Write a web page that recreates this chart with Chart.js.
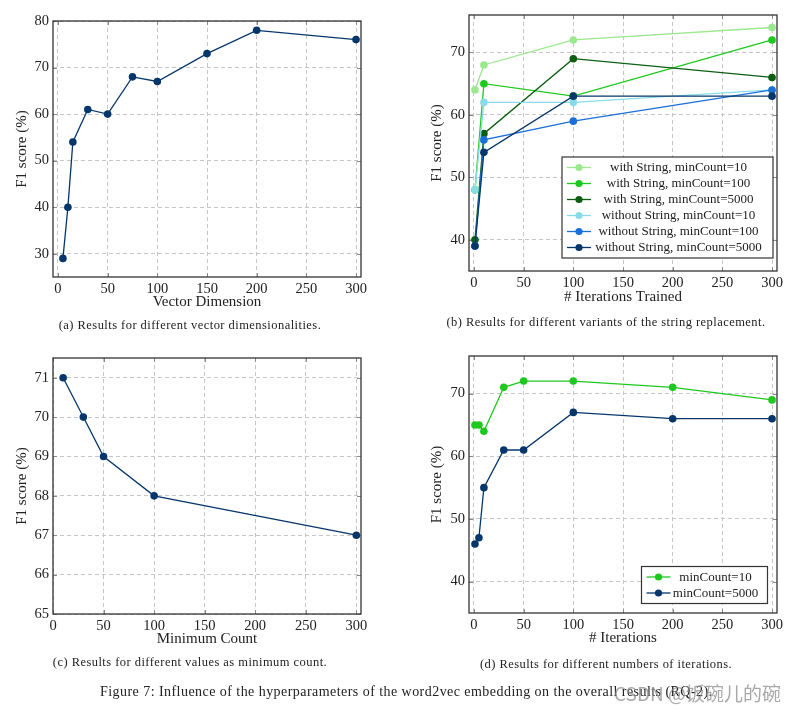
<!DOCTYPE html>
<html>
<head>
<meta charset="utf-8">
<script src="https://cdn.jsdelivr.net/npm/chart.js@4.4.1/dist/chart.umd.min.js"></script>
<style>
  body { margin: 0; background: #fff; width: 799px; height: 710px; position: relative; overflow: hidden;
         font-family: "Liberation Serif", "Times New Roman", serif; color: #222; }
  canvas { position: absolute; }
  .cap { position: absolute; font-size: 12.5px; letter-spacing: 0.45px; white-space: nowrap; transform: translate(-50%, -50%); }
  #figcap { position: absolute; left: 100px; top: 684px; font-size: 14px; letter-spacing: 0.45px; white-space: nowrap; }
  #mark { position: absolute; left: 614px; top: 679px; font-family: "Noto Sans CJK SC", sans-serif;
          font-size: 19px; color: rgba(140,140,140,0.75); white-space: nowrap; }
</style>
</head>
<body>
<canvas id="dimChart" width="400" height="320" style="left:0;top:0"></canvas>
<canvas id="stringChart" width="399" height="320" style="left:400px;top:0"></canvas>
<canvas id="minCountChart" width="400" height="320" style="left:0;top:340px"></canvas>
<canvas id="iterChart" width="399" height="320" style="left:400px;top:340px"></canvas>

<div class="cap" style="left:190px;top:325px">(a) Results for different vector dimensionalities.</div>
<div class="cap" style="left:606px;top:322px">(b) Results for different variants of the string replacement.</div>
<div class="cap" style="left:190px;top:662px">(c) Results for different values as minimum count.</div>
<div class="cap" style="left:606px;top:664px">(d) Results for different numbers of iterations.</div>
<div id="figcap">Figure 7: Influence of the hyperparameters of the word2vec embedding on the overall results (RQ-2).</div>
<div id="mark">CSDN @饭碗儿的碗</div>

<script>
// (a) vector dimension
const dimX = [5, 10, 15, 30, 50, 75, 100, 150, 200, 300];
const dimF1 = [29, 40, 54, 61, 60, 68, 67, 73, 78, 76];

// (b) string replacement variants
const trainedX = [1, 10, 100, 300];
const withStr10 = [64, 68, 72, 74];
const withStr100 = [48, 65, 63, 72];
const withStr5000 = [40, 57, 69, 66];
const withoutStr10 = [48, 62, 62, 64];
const withoutStr100 = [39, 56, 59, 64];
const withoutStr5000 = [39, 54, 63, 63];

// (c) minimum count
const minCountX = [10, 30, 50, 100, 300];
const minCountF1 = [71, 70, 69, 68, 67];

// (d) iterations
const iterX = [1, 5, 10, 30, 50, 100, 200, 300];
const iterMin10 = [65, 65, 64, 71, 72, 72, 71, 69];
const iterMin5000 = [46, 47, 55, 61, 61, 67, 66, 66];

// tick labels
const xTicks = [0, 50, 100, 150, 200, 250, 300];
const yTicksA = [30, 40, 50, 60, 70, 80];
const yTicksB = [40, 50, 60, 70];
const yTicksC = [65, 66, 67, 68, 69, 70, 71];
const yTicksD = [40, 50, 60, 70];

const navy = '#07366a';
const lightGreen = '#9be88e';
const green = '#1fc81f';
const darkGreen = '#0b5e12';
const lightCyan = '#88dcea';
const blue = '#1a70d8';

Chart.defaults.font.family = '"Liberation Serif", "Times New Roman", serif';
Chart.defaults.color = '#222';

// frame with small inner ticks, like pgfplots
const frame = {
  id: 'frame',
  beforeDatasetsDraw(chart) {
    const { ctx, chartArea: a, scales } = chart;
    ctx.save();
    ctx.strokeStyle = '#8a8a8a';
    ctx.lineWidth = 1;
    ctx.beginPath();
    scales.x.ticks.forEach(t => {
      const p = Math.round(scales.x.getPixelForValue(t.value)) + 0.5;
      ctx.moveTo(p, a.bottom); ctx.lineTo(p, a.bottom - 4);
      ctx.moveTo(p, a.top); ctx.lineTo(p, a.top + 4);
    });
    scales.y.ticks.forEach(t => {
      const p = Math.round(scales.y.getPixelForValue(t.value)) + 0.5;
      ctx.moveTo(a.left, p); ctx.lineTo(a.left + 4, p);
      ctx.moveTo(a.right, p); ctx.lineTo(a.right - 4, p);
    });
    ctx.stroke();
    ctx.restore();
  },
  afterDraw(chart) {
    const { ctx, chartArea: a } = chart;
    ctx.save();
    ctx.strokeStyle = '#333';
    ctx.lineWidth = 1.3;
    ctx.strokeRect(a.left, a.top, a.right - a.left, a.bottom - a.top);
    ctx.restore();
  }
};

// boxed legend placed inside the plot area
const boxLegend = {
  id: 'boxLegend',
  afterDraw(chart, args, o) {
    if (!o || !o.width) return;
    const { ctx, chartArea: a } = chart;
    const sets = chart.data.datasets;
    const h = o.rowH * sets.length + o.padY * 2;
    const x0 = a.right - o.right - o.width;
    const y0 = a.bottom - o.bottom - h;
    ctx.save();
    ctx.fillStyle = '#fff';
    ctx.fillRect(x0, y0, o.width, h);
    ctx.strokeStyle = '#333';
    ctx.lineWidth = 1.2;
    ctx.strokeRect(x0, y0, o.width, h);
    ctx.font = '13px "Liberation Serif", serif';
    ctx.textAlign = 'center';
    ctx.textBaseline = 'middle';
    sets.forEach((ds, i) => {
      const cy = y0 + o.padY + o.rowH * (i + 0.5);
      ctx.strokeStyle = ds.borderColor;
      ctx.lineWidth = 1.3;
      ctx.beginPath();
      ctx.moveTo(x0 + 5, cy); ctx.lineTo(x0 + 29, cy);
      ctx.stroke();
      ctx.fillStyle = ds.borderColor;
      ctx.beginPath();
      ctx.arc(x0 + 17, cy, 3.6, 0, Math.PI * 2);
      ctx.fill();
      ctx.fillStyle = '#222';
      ctx.fillText(ds.label, x0 + (o.width + 22) / 2, cy + 0.5);
    });
    ctx.restore();
  }
};

function series(label, xs, ys, color, i, n) {
  return {
    label,
    data: xs.map((x, k) => ({ x, y: ys[k] })),
    borderColor: color,
    backgroundColor: color,
    pointBackgroundColor: color,
    pointBorderColor: color,
    pointBorderWidth: 0,
    pointRadius: 3.8,
    borderWidth: 1.3,
    tension: 0,
    clip: false,
    order: n - i
  };
}

function axis(ticks, min, max, title, titlePad, tickPad, fit) {
  return {
    type: 'linear',
    min, max,
    afterBuildTicks: s => { s.ticks = ticks.map(v => ({ value: v })); },
    afterFit: fit,
    grid: { color: '#c6c6c6', lineWidth: 1, drawTicks: false },
    border: { display: false, dash: [4, 3] },
    ticks: { font: { size: 14.5 }, padding: tickPad, color: '#222', maxRotation: 0, autoSkip: false },
    title: { display: true, text: title, font: { size: 15 }, color: '#222', padding: titlePad }
  };
}

function makeChart(id, datasets, box, xr, yr, legend) {
  // box: chart area inside the canvas [left, top, right, bottom]
  const canvas = document.getElementById(id);
  const W = canvas.width, H = canvas.height;
  return new Chart(canvas, {
    type: 'line',
    data: { datasets },
    options: {
      responsive: false,
      animation: false,
      layout: { autoPadding: false, padding: { top: box[1], right: W - box[2], left: 0, bottom: 0 } },
      plugins: { legend: { display: false }, tooltip: { enabled: false }, boxLegend: legend || {} },
      scales: {
        x: axis(xTicks, xr[0], xr[1], xr[2], { top: 0, bottom: xr[3] }, 3, s => { s.height = H - box[3]; }),
        y: axis(yr[0], yr[1], yr[2], 'F1 score (%)', { top: yr[3], bottom: 0 }, 4, s => { s.width = box[0]; })
      }
    },
    plugins: [frame, boxLegend]
  });
}

makeChart('dimChart',
  [series('F1', dimX, dimF1, navy, 0, 1)],
  [53, 21, 361, 277],
  [-5, 305, 'Vector Dimension', 9],
  [yTicksA, 25, 80, 13]);

makeChart('stringChart', [
    series('with String, minCount=10', trainedX, withStr10, lightGreen, 0, 6),
    series('with String, minCount=100', trainedX, withStr100, green, 1, 6),
    series('with String, minCount=5000', trainedX, withStr5000, darkGreen, 2, 6),
    series('without String, minCount=10', trainedX, withoutStr10, lightCyan, 3, 6),
    series('without String, minCount=100', trainedX, withoutStr100, blue, 4, 6),
    series('without String, minCount=5000', trainedX, withoutStr5000, navy, 5, 6)
  ],
  [69, 15, 377, 271],
  [-5, 305, '# Iterations Trained', 14],
  [yTicksB, 35, 76, 28],
  { width: 211, rowH: 16, padY: 2.5, right: 4, bottom: 13 });

makeChart('minCountChart',
  [series('F1', minCountX, minCountF1, navy, 0, 1)],
  [53, 18, 361, 274],
  [0, 304.6, 'Minimum Count', 12],
  [yTicksC, 65, 71.5, 13]);

makeChart('iterChart', [
    series('minCount=10', iterX, iterMin10, green, 0, 2),
    series('minCount=5000', iterX, iterMin5000, navy, 1, 2)
  ],
  [69, 16, 377, 273],
  [-5, 305, '# Iterations', 13],
  [yTicksD, 35, 76, 28],
  { width: 126, rowH: 16, padY: 2.5, right: 9.5, bottom: 9.5 });
</script>
</body>
</html>
